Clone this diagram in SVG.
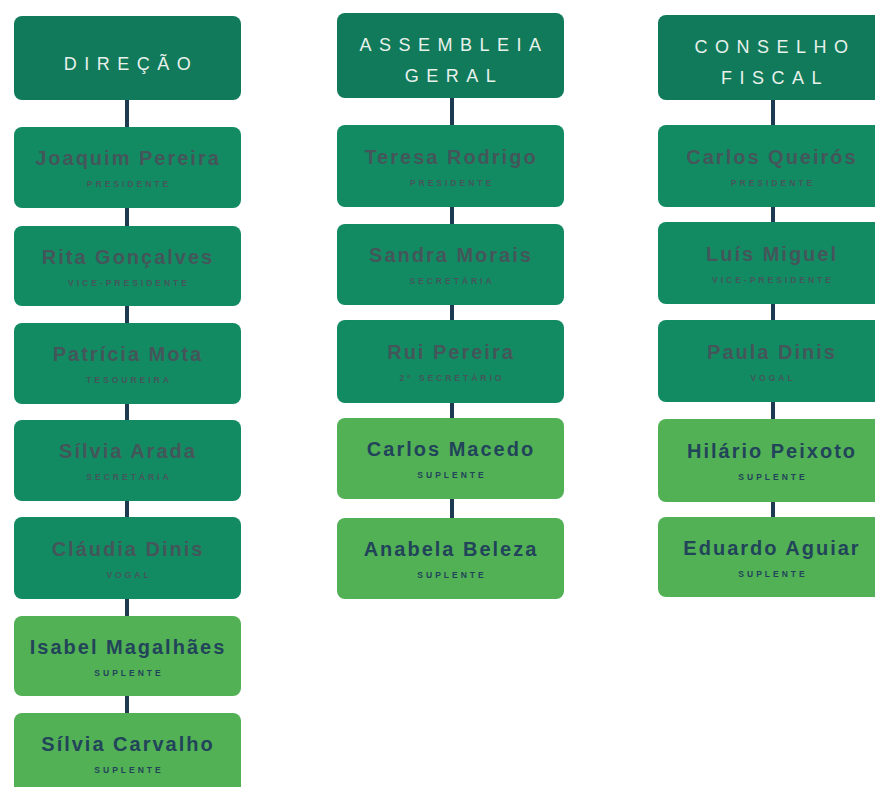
<svg xmlns="http://www.w3.org/2000/svg" width="875" height="787" viewBox="0 0 875 787">
<style>
.hd{fill:#107a5a}
.dk{fill:#128b63}
.lt{fill:#52b155}
.ht{font-family:"Liberation Sans",Arial,sans-serif;font-size:18px;fill:#e8f1ec;letter-spacing:7.5px;text-anchor:middle}
.nm{font-family:"Liberation Sans",Arial,sans-serif;font-size:20px;font-weight:bold;letter-spacing:2px;text-anchor:middle}
.rl{font-family:"Liberation Sans",Arial,sans-serif;font-size:8.5px;font-weight:bold;letter-spacing:3px;text-anchor:middle}
.dk-t{fill:#44565a}
.lt-t{fill:#22445a}
.cn{stroke:#1d3a52;stroke-width:4;fill:none}
</style>
<rect width="875" height="787" fill="#ffffff"/>
<g id="connectors">
<line class="cn" x1="127" y1="100" x2="127" y2="714"/>
<line class="cn" x1="452" y1="97" x2="452" y2="519"/>
<line class="cn" x1="773" y1="99" x2="773" y2="518"/>
</g>
<g id="h-direcao"><rect class="hd" x="14" y="16" width="227" height="84" rx="8"/><text class="ht" x="131" y="70">DIREÇÃO</text></g>
<g id="n-joaquim"><rect class="dk" x="14" y="127" width="227" height="81" rx="8"/><text class="nm dk-t" x="128" y="165">Joaquim Pereira</text><text class="rl dk-t" x="129" y="187">PRESIDENTE</text></g>
<g id="n-rita"><rect class="dk" x="14" y="226" width="227" height="80" rx="8"/><text class="nm dk-t" x="128" y="264">Rita Gonçalves</text><text class="rl dk-t" x="129" y="286">VICE-PRESIDENTE</text></g>
<g id="n-patricia"><rect class="dk" x="14" y="323" width="227" height="81" rx="8"/><text class="nm dk-t" x="128" y="361">Patrícia Mota</text><text class="rl dk-t" x="129" y="383">TESOUREIRA</text></g>
<g id="n-silvia-a"><rect class="dk" x="14" y="420" width="227" height="81" rx="8"/><text class="nm dk-t" x="128" y="458">Sílvia Arada</text><text class="rl dk-t" x="129" y="480">SECRETÁRIA</text></g>
<g id="n-claudia"><rect class="dk" x="14" y="517" width="227" height="82" rx="8"/><text class="nm dk-t" x="128" y="556">Cláudia Dinis</text><text class="rl dk-t" x="129" y="578">VOGAL</text></g>
<g id="n-isabel"><rect class="lt" x="14" y="616" width="227" height="80" rx="8"/><text class="nm lt-t" x="128" y="654">Isabel Magalhães</text><text class="rl lt-t" x="129" y="676">SUPLENTE</text></g>
<g id="n-silvia-c"><rect class="lt" x="14" y="713" width="227" height="82" rx="8"/><text class="nm lt-t" x="128" y="751">Sílvia Carvalho</text><text class="rl lt-t" x="129" y="773">SUPLENTE</text></g>
<g id="h-assembleia"><rect class="hd" x="337" y="13" width="227" height="85" rx="8"/><text class="ht" x="454" y="51">ASSEMBLEIA</text><text class="ht" x="454" y="82">GERAL</text></g>
<g id="n-teresa"><rect class="dk" x="337" y="125" width="227" height="82" rx="8"/><text class="nm dk-t" x="451" y="164">Teresa Rodrigo</text><text class="rl dk-t" x="452" y="186">PRESIDENTE</text></g>
<g id="n-sandra"><rect class="dk" x="337" y="224" width="227" height="81" rx="8"/><text class="nm dk-t" x="451" y="262">Sandra Morais</text><text class="rl dk-t" x="452" y="284">SECRETÁRIA</text></g>
<g id="n-rui"><rect class="dk" x="337" y="320" width="227" height="83" rx="8"/><text class="nm dk-t" x="451" y="359">Rui Pereira</text><text class="rl dk-t" x="452" y="381">2º SECRETÁRIO</text></g>
<g id="n-carlos-m"><rect class="lt" x="337" y="418" width="227" height="81" rx="8"/><text class="nm lt-t" x="451" y="456">Carlos Macedo</text><text class="rl lt-t" x="452" y="478">SUPLENTE</text></g>
<g id="n-anabela"><rect class="lt" x="337" y="518" width="227" height="81" rx="8"/><text class="nm lt-t" x="451" y="556">Anabela Beleza</text><text class="rl lt-t" x="452" y="578">SUPLENTE</text></g>
<g id="h-conselho"><rect class="hd" x="658" y="15" width="227" height="85" rx="8"/><text class="ht" x="775" y="53">CONSELHO</text><text class="ht" x="775" y="84">FISCAL</text></g>
<g id="n-carlos-q"><rect class="dk" x="658" y="125" width="227" height="82" rx="8"/><text class="nm dk-t" x="772" y="164">Carlos Queirós</text><text class="rl dk-t" x="773" y="186">PRESIDENTE</text></g>
<g id="n-luis"><rect class="dk" x="658" y="222" width="227" height="82" rx="8"/><text class="nm dk-t" x="772" y="261">Luís Miguel</text><text class="rl dk-t" x="773" y="283">VICE-PRESIDENTE</text></g>
<g id="n-paula"><rect class="dk" x="658" y="320" width="227" height="82" rx="8"/><text class="nm dk-t" x="772" y="359">Paula Dinis</text><text class="rl dk-t" x="773" y="381">VOGAL</text></g>
<g id="n-hilario"><rect class="lt" x="658" y="419" width="227" height="83" rx="8"/><text class="nm lt-t" x="772" y="458">Hilário Peixoto</text><text class="rl lt-t" x="773" y="480">SUPLENTE</text></g>
<g id="n-eduardo"><rect class="lt" x="658" y="517" width="227" height="80" rx="8"/><text class="nm lt-t" x="772" y="555">Eduardo Aguiar</text><text class="rl lt-t" x="773" y="577">SUPLENTE</text></g>
</svg>
